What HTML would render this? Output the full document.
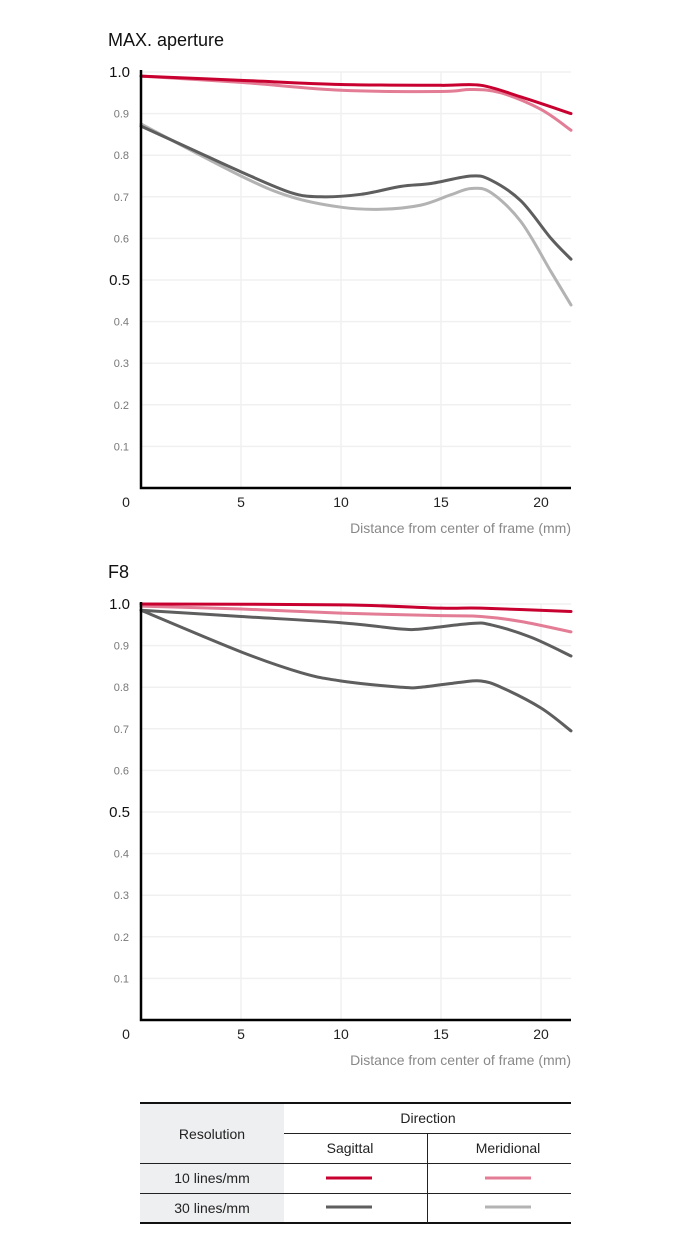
<!DOCTYPE html>
<html><head><meta charset="utf-8"><style>
body{margin:0;width:680px;height:1250px;background:#fff;font-family:"Liberation Sans",sans-serif;overflow:hidden}
svg{position:absolute;left:0;top:0}
</style></head><body>
<svg id="s" width="680" height="1250"></svg>
<script>
const xTicks=[5,10,15,20];
const yTicks=[0.1,0.2,0.3,0.4,0.5,0.6,0.7,0.8,0.9,1.0];
const c1Title="MAX. aperture";
const c1Sag10x=[0,5,10,15,17,19,21.5];
const c1Sag10y=[0.99,0.98,0.97,0.968,0.968,0.94,0.9];
const c1Mer10x=[0,5,10,15,16.5,18,20,21.5];
const c1Mer10y=[0.99,0.975,0.956,0.953,0.958,0.95,0.91,0.86];
const c1Sag30x=[0,2.5,5,7.5,9,11,13,14.5,16.5,17.5,19,20.5,21.5];
const c1Sag30y=[0.87,0.815,0.76,0.71,0.70,0.706,0.725,0.732,0.75,0.74,0.69,0.6,0.55];
const c1Mer30x=[0,5,7.5,10,12,14,15.5,16.5,17.5,19,20.5,21.5];
const c1Mer30y=[0.875,0.75,0.70,0.675,0.67,0.68,0.705,0.72,0.71,0.64,0.52,0.44];
const c2Title="F8";
const c2Sag10x=[0,10,15,17,21.5];
const c2Sag10y=[1.0,0.998,0.99,0.99,0.982];
const c2Mer10x=[0,5,10,15,17,19,21.5];
const c2Mer10y=[0.995,0.988,0.978,0.972,0.97,0.958,0.933];
const c2Sag30x=[0,5,10,13,14,16.5,17.5,19.5,21.5];
const c2Sag30y=[0.985,0.97,0.955,0.94,0.94,0.953,0.95,0.92,0.875];
const c2Mer30x=[0,5,8,10,13,14,16,17,18,20,21.5];
const c2Mer30y=[0.985,0.885,0.835,0.815,0.8,0.8,0.812,0.815,0.8,0.75,0.695];

const S=document.getElementById('s'),NS="http://www.w3.org/2000/svg";
function el(t,a,txt){const e=document.createElementNS(NS,t);for(const k in a)e.setAttribute(k,a[k]);if(txt!=null)e.textContent=txt;S.appendChild(e);return e;}
function path(pts){let d="M"+pts[0][0]+","+pts[0][1];for(let i=0;i<pts.length-1;i++){const p0=pts[i-1]||pts[i],p1=pts[i],p2=pts[i+1],p3=pts[i+2]||p2;
d+=" C"+(p1[0]+(p2[0]-p0[0])/6)+","+(p1[1]+(p2[1]-p0[1])/6)+" "+(p2[0]-(p3[0]-p1[0])/6)+","+(p2[1]-(p3[1]-p1[1])/6)+" "+p2[0]+","+p2[1];}return d;}
function chart(id,top,title,series){
 const x0=141,x1=571,y0=top+416,X=v=>x0+v*20,Y=v=>y0-v*416;
 let t=el('text',{x:108,y:top-26,'font-size':18,fill:'#111'},title);
 
 yTicks.forEach(v=>{let g=el('line',{x1:x0,x2:x1,y1:Y(v),y2:Y(v),stroke:'#f0f0f0','stroke-width':1.5});
  
  const big=Math.abs(v-1)<1e-6||Math.abs(v-0.5)<1e-6;
  let l=el('text',{x:big?130:129,y:Y(v)+(big?5:4),'text-anchor':'end','font-size':big?15:11,fill:big?'#111':'#777'},big?v.toFixed(1):v.toFixed(1));
  });
 xTicks.forEach(v=>{let g=el('line',{x1:X(v),x2:X(v),y1:Y(1.0),y2:y0,stroke:'#f0f0f0','stroke-width':1.5});
  
  let l=el('text',{x:X(v),y:y0+19,'text-anchor':'middle','font-size':14,fill:'#222'},String(v));
  });
 let z=el('text',{x:126,y:y0+19,'text-anchor':'middle','font-size':14,fill:'#222'},'0');
 
 let xt=el('text',{x:571,y:y0+45,'text-anchor':'end','font-size':14,fill:'#888'},'Distance from center of frame (mm)');
 
 series.forEach(s=>{const pts=s.x.map((v,i)=>[X(v),Y(s.y[i])]);
  let p=el('path',{d:path(pts),fill:'none',stroke:s.c,'stroke-width':3,'stroke-linecap':'round'});
  });
 let ax=el('path',{d:`M${x0},${Y(1.0)-2} V${y0} H${x1}`,fill:'none',stroke:'#000','stroke-width':2.5});
 
}
chart('max-aperture-chart',72,c1Title,[
 {x:c1Mer30x,y:c1Mer30y,c:'#b3b3b3',n:'meridional-30-line'},
 {x:c1Sag30x,y:c1Sag30y,c:'#5e5e5e',n:'sagittal-30-line'},
 {x:c1Mer10x,y:c1Mer10y,c:'#e37c95',n:'meridional-10-line'},
 {x:c1Sag10x,y:c1Sag10y,c:'#c8002f',n:'sagittal-10-line'}]);
chart('f8-chart',604,c2Title,[
 {x:c2Mer30x,y:c2Mer30y,c:'#5e5e5e',n:'meridional-30-line'},
 {x:c2Sag30x,y:c2Sag30y,c:'#5e5e5e',n:'sagittal-30-line'},
 {x:c2Mer10x,y:c2Mer10y,c:'#e37c95',n:'meridional-10-line'},
 {x:c2Sag10x,y:c2Sag10y,c:'#c8002f',n:'sagittal-10-line'}]);
</script>
<svg width="680" height="1250" style="position:absolute;left:0;top:0">
 <rect x="140" y="1102" width="144" height="121" fill="#eeeff1"/>
 <line x1="140" x2="571" y1="1103" y2="1103" stroke="#111" stroke-width="2"/>
 <line x1="140" x2="571" y1="1223" y2="1223" stroke="#111" stroke-width="2"/>
 <line x1="284" x2="571" y1="1133.5" y2="1133.5" stroke="#222" stroke-width="1"/>
 <line x1="140" x2="571" y1="1163.5" y2="1163.5" stroke="#222" stroke-width="1"/>
 <line x1="140" x2="571" y1="1193.5" y2="1193.5" stroke="#222" stroke-width="1"/>
 <line x1="427.5" x2="427.5" y1="1133" y2="1223" stroke="#222" stroke-width="1"/>
 <g font-family="Liberation Sans, sans-serif" font-size="14" fill="#222" text-anchor="middle">
  <text x="212" y="1139">Resolution</text>
  <text x="428" y="1123">Direction</text>
  <text x="350" y="1153">Sagittal</text>
  <text x="508" y="1153">Meridional</text>
  <text x="212" y="1183">10 lines/mm</text>
  <text x="212" y="1213">30 lines/mm</text>
 </g>
 <line x1="326" x2="372" y1="1178" y2="1178" stroke="#c8002f" stroke-width="3"/>
 <line x1="485" x2="531" y1="1178" y2="1178" stroke="#e37c95" stroke-width="3"/>
 <line x1="326" x2="372" y1="1207" y2="1207" stroke="#5e5e5e" stroke-width="3"/>
 <line x1="485" x2="531" y1="1207" y2="1207" stroke="#b3b3b3" stroke-width="3"/>
</svg>
</body></html>
